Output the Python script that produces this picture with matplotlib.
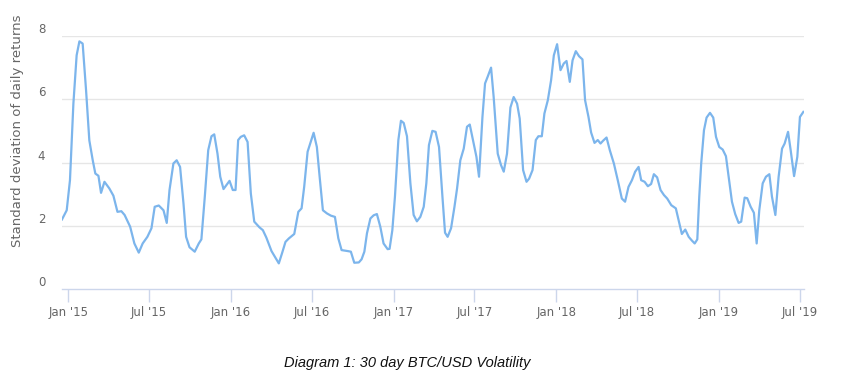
import numpy as np
import matplotlib
matplotlib.use('Agg')
import matplotlib.pyplot as plt

# time in decimal years, volatility
t = [2014.961, 2014.990, 2015.010, 2015.031, 2015.051, 2015.068, 2015.088, 2015.109, 2015.129, 2015.150,
     2015.166, 2015.185, 2015.201, 2015.222, 2015.252, 2015.277, 2015.302, 2015.326, 2015.346, 2015.380,
     2015.406, 2015.433, 2015.457, 2015.486, 2015.511, 2015.531, 2015.556, 2015.585, 2015.605, 2015.622,
     2015.646, 2015.666, 2015.687, 2015.708, 2015.724, 2015.745, 2015.777, 2015.802, 2015.818, 2015.839,
     2015.860, 2015.880, 2015.897, 2015.917, 2015.934, 2015.954, 2015.991, 2016.011, 2016.028, 2016.044,
     2016.060, 2016.081, 2016.102, 2016.122, 2016.143, 2016.175, 2016.196, 2016.217, 2016.237, 2016.249,
     2016.270, 2016.294, 2016.315, 2016.335, 2016.356, 2016.389, 2016.414, 2016.434, 2016.450, 2016.471,
     2016.508, 2016.528, 2016.545, 2016.565, 2016.590, 2016.614, 2016.639, 2016.660, 2016.680, 2016.717,
     2016.737, 2016.758, 2016.786, 2016.803, 2016.820, 2016.836, 2016.857, 2016.877, 2016.897, 2016.918,
     2016.938, 2016.963, 2016.975, 2016.992, 2017.008, 2017.029, 2017.045, 2017.062, 2017.082, 2017.103,
     2017.123, 2017.143, 2017.164, 2017.185, 2017.201, 2017.217, 2017.238, 2017.258, 2017.279, 2017.300,
     2017.316, 2017.332, 2017.353, 2017.374, 2017.390, 2017.410, 2017.431, 2017.451, 2017.468, 2017.488,
     2017.509, 2017.525, 2017.546, 2017.562, 2017.578, 2017.599, 2017.615, 2017.640, 2017.660, 2017.677,
     2017.697, 2017.718, 2017.738, 2017.759, 2017.775, 2017.796, 2017.817, 2017.833, 2017.854, 2017.874,
     2017.890, 2017.911, 2017.927, 2017.948, 2017.968, 2017.985, 2018.005, 2018.026, 2018.046, 2018.063,
     2018.083, 2018.100, 2018.120, 2018.140, 2018.161, 2018.177, 2018.198, 2018.214, 2018.235, 2018.255,
     2018.272, 2018.288, 2018.309, 2018.329, 2018.354, 2018.378, 2018.403, 2018.423, 2018.444, 2018.465,
     2018.485, 2018.506, 2018.522, 2018.543, 2018.563, 2018.583, 2018.600, 2018.620, 2018.641, 2018.662,
     2018.682, 2018.707, 2018.735, 2018.752, 2018.772, 2018.793, 2018.814, 2018.834, 2018.851, 2018.867,
     2018.879, 2018.891, 2018.908, 2018.924, 2018.945, 2018.965, 2018.982, 2019.002, 2019.023, 2019.043,
     2019.060, 2019.080, 2019.100, 2019.121, 2019.137, 2019.158, 2019.174, 2019.195, 2019.215, 2019.232,
     2019.248, 2019.269, 2019.289, 2019.310, 2019.326, 2019.347, 2019.367, 2019.388, 2019.404, 2019.425,
     2019.441, 2019.462, 2019.482, 2019.498, 2019.519]

vol = [2.20, 2.49, 3.44, 5.86, 7.39, 7.83, 7.76, 6.28, 4.70, 4.07,
       3.65, 3.58, 3.04, 3.39, 3.18, 2.95, 2.44, 2.46, 2.34, 1.97,
       1.44, 1.15, 1.44, 1.65, 1.92, 2.60, 2.64, 2.49, 2.09, 3.13,
       3.97, 4.07, 3.86, 2.70, 1.65, 1.32, 1.18, 1.44, 1.57, 2.92,
       4.39, 4.83, 4.89, 4.28, 3.55, 3.16, 3.42, 3.13, 3.13, 4.71,
       4.81, 4.86, 4.65, 3.02, 2.13, 1.95, 1.86, 1.63, 1.36, 1.20,
       1.02, 0.81, 1.15, 1.49, 1.60, 1.74, 2.44, 2.55, 3.23, 4.34,
       4.94, 4.49, 3.55, 2.49, 2.39, 2.32, 2.28, 1.60, 1.23, 1.20,
       1.18, 0.83, 0.84, 0.94, 1.18, 1.76, 2.23, 2.33, 2.37, 1.97,
       1.44, 1.26, 1.27, 1.86, 2.92, 4.71, 5.32, 5.25, 4.83, 3.34,
       2.34, 2.14, 2.28, 2.60, 3.34, 4.55, 5.00, 4.97, 4.49, 2.92,
       1.78, 1.65, 1.92, 2.60, 3.18, 4.07, 4.44, 5.13, 5.20, 4.71,
       4.18, 3.55, 5.44, 6.50, 6.71, 7.00, 6.07, 4.28, 3.92, 3.71,
       4.28, 5.74, 6.07, 5.86, 5.39, 3.76, 3.39, 3.49, 3.76, 4.71,
       4.83, 4.83, 5.55, 5.97, 6.60, 7.39, 7.74, 6.92, 7.13, 7.21,
       6.55, 7.23, 7.52, 7.36, 7.26, 5.97, 5.44, 4.95, 4.62, 4.71,
       4.60, 4.69, 4.79, 4.39, 3.97, 3.44, 2.86, 2.76, 3.23, 3.44,
       3.71, 3.86, 3.44, 3.39, 3.25, 3.32, 3.63, 3.53, 3.13, 2.97,
       2.86, 2.65, 2.55, 2.18, 1.74, 1.88, 1.65, 1.53, 1.44, 1.57,
       2.92, 3.97, 5.02, 5.42, 5.57, 5.42, 4.81, 4.49, 4.41, 4.20,
       3.55, 2.76, 2.37, 2.09, 2.13, 2.89, 2.87, 2.60, 2.41, 1.44,
       2.49, 3.34, 3.55, 3.63, 2.92, 2.34, 3.55, 4.44, 4.60, 4.97,
       4.39, 3.57, 4.18, 5.44, 5.60]

tick_pos = [2015.0, 2015.496, 2016.0, 2016.497, 2017.0, 2017.496, 2018.0, 2018.496, 2019.0, 2019.496]
tick_labels = ["Jan '15", "Jul '15", "Jan '16", "Jul '16", "Jan '17", "Jul '17",
               "Jan '18", "Jul '18", "Jan '19", "Jul '19"]
y_ticks = [0, 2, 4, 6, 8]

W, H = 848, 389
fig = plt.figure(figsize=(W / 100, H / 100), dpi=100)
ax = fig.add_axes([62 / W, 1 - 289 / H, (804 - 62) / W, (289 - 36) / H])

ax.plot(t, vol, color='#7cb5ec', lw=1.6, solid_joinstyle='round', zorder=3)

ax.set_xlim(2014.961, 2019.523)
ax.set_ylim(0, 8)

# grid lines
for y in y_ticks[1:]:
    ax.axhline(y, color='#e6e6e6', lw=1, zorder=1)
for s in ['top', 'right', 'left']:
    ax.spines[s].set_visible(False)
ax.spines['bottom'].set_color('#ccd6eb')
ax.spines['bottom'].set_linewidth(1)

ax.set_xticks(tick_pos)
ax.set_xticklabels(tick_labels)
ax.tick_params(axis='x', length=9, width=1, color='#ccd6eb', labelcolor='#666666',
               labelsize=8.5, pad=3)

ax.set_yticks(y_ticks)
ax.set_yticklabels([str(v) for v in y_ticks])
ax.tick_params(axis='y', length=0, labelcolor='#666666', labelsize=8.5, pad=12)
for lab in ax.get_yticklabels():
    lab.set_verticalalignment('bottom')

fig.text(18 / W, 1 - 131 / H, 'Standard deviation of daily returns', rotation=90,
         ha='center', va='center', color='#666666', fontsize=9.5)

fig.text(407 / W, 1 - 363 / H, 'Diagram 1: 30 day BTC/USD Volatility', ha='center', va='center',
         fontsize=10.5, style='italic', family='Liberation Sans', color='#111111')

fig.savefig('out.png', dpi=100)
